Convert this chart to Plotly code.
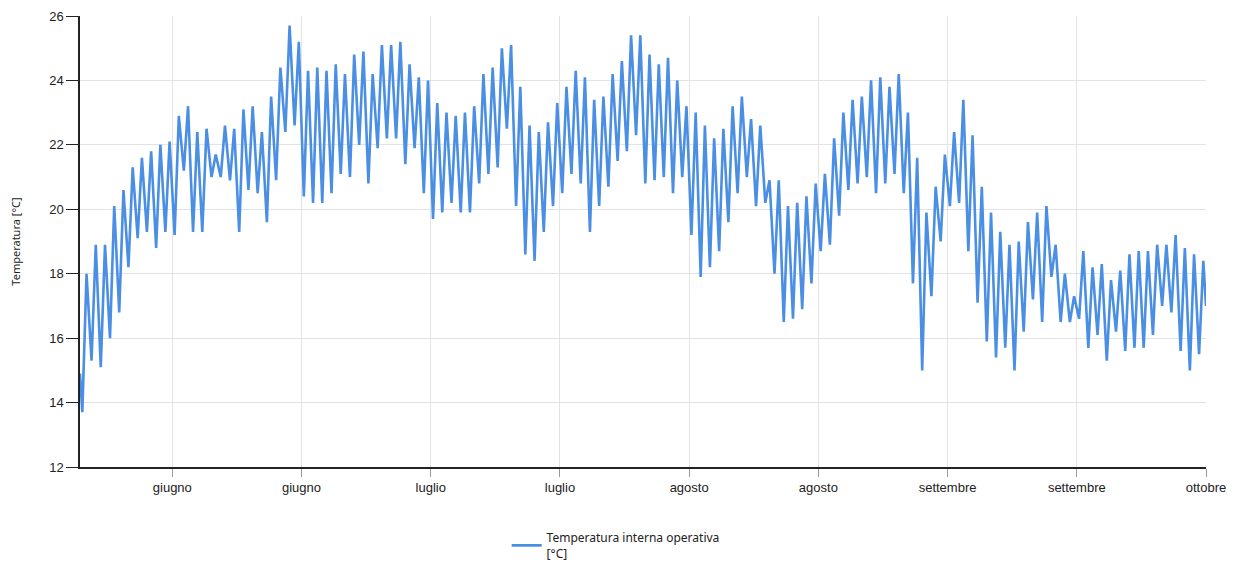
import plotly.graph_objects as go
from datetime import datetime, timedelta

# ---- data (daily minimum ~06:00 and maximum ~17:00) ----
start_date = "2023-06-01"
end_date = "2023-10-01"
first_value = 14.9   # value at 00:00 of the first day
last_value = 17.0    # value at 00:00 of the last day

daily_min = [
    13.7, 15.3, 15.1, 16.0, 16.8, 18.2, 19.1, 19.3, 18.8, 19.3,
    19.2, 21.2, 19.3, 19.3, 21.0, 21.0, 20.9, 19.3, 20.6, 20.5,
    19.6, 20.9, 22.4, 22.6, 20.4, 20.2, 20.2, 20.5, 21.1, 21.0,
    22.0, 20.8, 21.9, 22.2, 22.2, 21.4, 21.9, 20.5, 19.7, 19.9,
    20.2, 19.9, 19.9, 20.8, 21.1, 21.3, 22.5, 20.1, 18.6, 18.4,
    19.3, 20.1, 20.5, 21.1, 20.8, 19.3, 20.1, 20.7, 21.5, 21.8,
    22.3, 20.8, 20.9, 21.0, 20.5, 21.0, 19.2, 17.9, 18.2, 18.7,
    19.6, 20.5, 21.0, 20.1, 20.2, 18.0, 16.5, 16.6, 16.9, 17.7,
    18.7, 18.9, 19.8, 20.6, 20.8, 21.0, 20.5, 20.8, 21.1, 20.5,
    17.7, 15.0, 17.3, 19.0, 20.1, 20.2, 18.7, 17.1, 15.9, 15.4,
    15.7, 15.0, 16.2, 17.2, 16.5, 17.9, 16.5, 16.5, 16.6, 15.7,
    16.1, 15.3, 16.2, 15.6, 15.7, 15.7, 16.1, 17.0, 16.8, 15.6,
    15.0, 15.5,
]
daily_max = [
    18.0, 18.9, 18.9, 20.1, 20.6, 21.3, 21.6, 21.8, 22.0, 22.1,
    22.9, 23.2, 22.4, 22.5, 21.7, 22.6, 22.5, 23.1, 23.2, 22.4,
    23.5, 24.4, 25.7, 25.2, 24.3, 24.4, 24.3, 24.5, 24.2, 24.8,
    24.9, 24.2, 25.1, 25.1, 25.2, 24.5, 24.1, 24.0, 23.3, 23.0,
    22.9, 23.0, 23.2, 24.2, 24.4, 25.0, 25.1, 23.8, 22.6, 22.4,
    22.7, 23.3, 23.8, 24.3, 24.1, 23.4, 23.5, 24.2, 24.6, 25.4,
    25.4, 24.8, 24.5, 24.7, 24.0, 23.2, 23.0, 22.6, 22.2, 22.5,
    23.2, 23.5, 22.8, 22.6, 20.9, 20.9, 20.1, 20.2, 20.4, 20.8,
    21.1, 22.2, 23.0, 23.4, 23.5, 24.0, 24.1, 23.8, 24.2, 23.0,
    21.6, 19.9, 20.7, 21.7, 22.4, 23.4, 22.3, 20.7, 19.9, 19.3,
    18.9, 19.0, 19.6, 19.9, 20.1, 18.9, 18.0, 17.3, 18.7, 18.2,
    18.3, 17.8, 18.1, 18.6, 18.7, 18.7, 18.9, 18.9, 19.2, 18.8,
    18.6, 18.4,
]

tick_dates = ["2023-06-11", "2023-06-25", "2023-07-09", "2023-07-23", "2023-08-06",
              "2023-08-20", "2023-09-03", "2023-09-17", "2023-10-01"]
tick_labels = ["giugno", "giugno", "luglio", "luglio", "agosto",
               "agosto", "settembre", "settembre", "ottobre"]

y_ticks = [12, 14, 16, 18, 20, 22, 24, 26]

# ---- build the time series ----
base = datetime.fromisoformat(start_date)
xs = [base]
ys = [first_value]
for d, (lo, hi) in enumerate(zip(daily_min, daily_max)):
    day = base + timedelta(days=d)
    xs.append(day + timedelta(hours=6))
    ys.append(lo)
    xs.append(day + timedelta(hours=17))
    ys.append(hi)
xs.append(datetime.fromisoformat(end_date))
ys.append(last_value)

tick_font = dict(family="Liberation Sans Narrow, Arial Narrow, Liberation Sans, Arial", size=13, color="#222222")

fig = go.Figure()
fig.add_trace(go.Scatter(
    x=xs, y=ys, mode="lines",
    name="Temperatura interna operativa<br>[°C]",
    line=dict(color="#4a8fe3", width=2.6),
))

# the page body adds an 8 px offset, so the figure is 8 px smaller than the window
fig.update_layout(
    width=1230, height=555,
    margin=dict(l=72, r=32, t=8, b=96, autoexpand=False),
    paper_bgcolor="white", plot_bgcolor="white",
    showlegend=True,
    legend=dict(
        orientation="h", xref="container", yref="container",
        x=0.494, xanchor="center", y=0.031, yanchor="middle",
        font=dict(family="Noto Sans, DejaVu Sans, sans-serif", size=12, color="#222222"),
        bgcolor="rgba(0,0,0,0)",
    ),
    xaxis=dict(
        range=[start_date, end_date], automargin=False,
        tickmode="array", tickvals=tick_dates, ticktext=tick_labels,
        showgrid=True, gridcolor="#e3e3e3", gridwidth=1,
        showline=True, linecolor="#222222", linewidth=1.5,
        ticks="outside", ticklen=8, tickcolor="#999999",
        tickfont=tick_font, zeroline=False,
    ),
    yaxis=dict(
        range=[12, 26], automargin=False, tickmode="array", tickvals=y_ticks,
        showgrid=True, gridcolor="#e3e3e3", gridwidth=1,
        showline=True, linecolor="#222222", linewidth=1.5,
        ticks="outside", ticklen=12, tickcolor="#222222",
        tickfont=tick_font, zeroline=False,
        title=dict(text="Temperatura [°C]",
                   font=dict(family="Noto Sans, DejaVu Sans, sans-serif", size=11, color="#222222"),
                   standoff=26),
    ),
)

fig.write_html("out.html")
